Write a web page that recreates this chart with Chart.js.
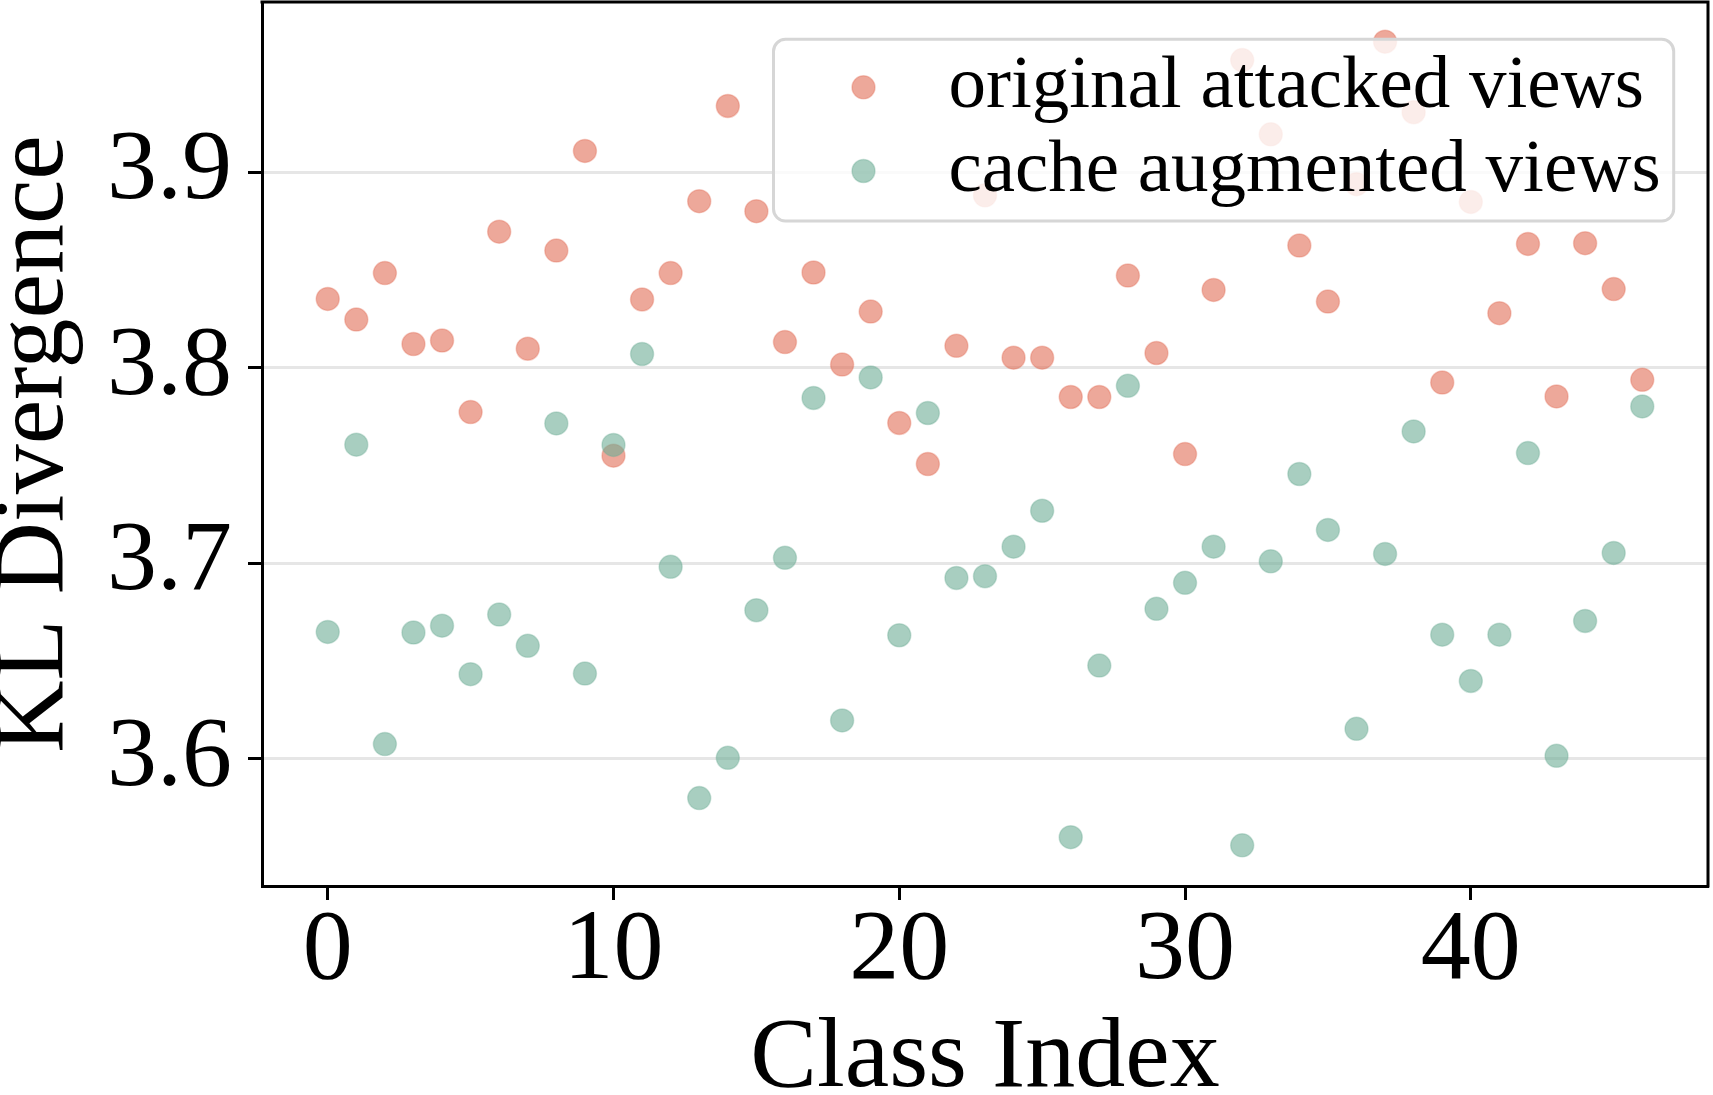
<!DOCTYPE html>
<html>
<head>
<meta charset="utf-8">
<script src="https://cdn.jsdelivr.net/npm/chart.js@4.4.0/dist/chart.umd.min.js"></script>
<style>
  html, body { margin: 0; padding: 0; background: #ffffff; }
  #wrap { width: 1713px; height: 1095px; }
</style>
</head>
<body>
<div id="wrap"><canvas id="c" width="1713" height="1095"></canvas></div>
<script>
// ---- data ----
const classIndex = [0,1,2,3,4,5,6,7,8,9,10,11,12,13,14,15,16,17,18,19,20,21,22,23,24,25,26,27,28,29,30,31,32,33,34,35,36,37,38,39,40,41,42,43,44,45,46];
const originalAttacked = [3.8352,3.8246,3.8484,3.8121,3.8139,3.7773,3.8696,3.8097,3.8599,3.9109,
  3.7550,3.8349,3.8484,3.8852,3.9339,3.8801,3.8131,3.8487,3.8016,3.8287,
  3.7717,3.7507,3.8112,3.8882,3.8051,3.8051,3.7850,3.7850,3.8471,3.8075,
  3.7558,3.8398,3.9574,3.9194,3.8625,3.8338,3.8939,3.9668,3.9307,3.7924,
  3.8848,3.8279,3.8633,3.7853,3.8637,3.8402,3.7938];
const cacheAugmented = [3.6648,3.7606,3.6074,3.6645,3.6680,3.6432,3.6737,3.6577,3.7715,3.6435,
  3.7605,3.8070,3.6981,3.5798,3.6004,3.6759,3.7027,3.7845,3.6195,3.7950,
  3.6631,3.7768,3.6924,3.6933,3.7084,3.7268,3.5598,3.6476,3.7907,3.6766,
  3.6899,3.7084,3.5556,3.7009,3.7456,3.7170,3.6152,3.7047,3.7674,3.6634,
  3.6397,3.6634,3.7563,3.6014,3.6704,3.7052,3.7802];
const seriesLabels = ['original attacked views', 'cache augmented views'];
const xTickValues = [0, 10, 20, 30, 40];
const yTickValues = [3.6, 3.7, 3.8, 3.9];
const xLimits = [-2.3, 48.3];
const yLimits = [3.5348, 3.9871];

// ---- styling ----
const SERIF = '"Liberation Serif", "Times New Roman", serif';
const ORANGE_FILL = 'rgba(225,110,87,0.6)';
const ORANGE_EDGE = 'rgba(225,110,87,0.35)';
const GREEN_FILL = 'rgba(110,173,150,0.6)';
const GREEN_EDGE = 'rgba(110,173,150,0.35)';
const POINT_R = 11.5;

const toPoints = (ys) => classIndex.map((x, i) => ({ x: x, y: ys[i] }));

function noPad(scale) {
  scale.paddingTop = 0; scale.paddingBottom = 0;
  scale.paddingLeft = 0; scale.paddingRight = 0;
}

// frame (top/right spines) plugin
const framePlugin = {
  id: 'frame',
  afterDraw(chart) {
    const { ctx, chartArea: a } = chart;
    ctx.save();
    ctx.strokeStyle = '#000';
    ctx.lineWidth = 3;
    ctx.lineCap = 'square';
    ctx.beginPath();
    ctx.moveTo(a.left, a.top);
    ctx.lineTo(a.right, a.top);
    ctx.lineTo(a.right, a.bottom);
    ctx.stroke();
    ctx.restore();
  }
};

// legend drawn over the points (semi-transparent white box, like the reference)
const legendPlugin = {
  id: 'overLegend',
  afterDatasetsDraw(chart) {
    const { ctx, chartArea: a } = chart;
    const boxRight = a.right - 34.3, boxTop = a.top + 37.3;
    const boxW = 900.2, boxH = 181.7, boxL = boxRight - boxW;
    ctx.save();
    ctx.beginPath();
    ctx.roundRect(boxL, boxTop, boxW, boxH, 12);
    ctx.fillStyle = 'rgba(255,255,255,0.8)';
    ctx.fill();
    ctx.lineWidth = 3;
    ctx.strokeStyle = '#d6d6d6';
    ctx.stroke();
    const ds = chart.data.datasets;
    const rows = [
      { y: boxTop + 48, base: boxTop + 68, d: ds[0] },
      { y: boxTop + 131.7, base: boxTop + 151.4, d: ds[1] }
    ];
    rows.forEach(r => {
      ctx.beginPath();
      ctx.arc(boxL + 90, r.y, POINT_R, 0, Math.PI * 2);
      ctx.fillStyle = r.d.backgroundColor;
      ctx.fill();
      ctx.lineWidth = 1.5;
      ctx.strokeStyle = r.d.borderColor;
      ctx.stroke();
      ctx.fillStyle = '#000';
      ctx.font = '75px ' + SERIF;
      ctx.textAlign = 'left';
      ctx.textBaseline = 'alphabetic';
      ctx.fillText(r.d.label, boxL + 174.9, r.base);
    });
    ctx.restore();
  }
};

new Chart(document.getElementById('c'), {
  type: 'scatter',
  data: {
    datasets: [
      { label: seriesLabels[0], data: toPoints(originalAttacked), order: 1,
        backgroundColor: ORANGE_FILL, borderColor: ORANGE_EDGE, borderWidth: 1.5,
        pointRadius: POINT_R, pointHoverRadius: POINT_R },
      { label: seriesLabels[1], data: toPoints(cacheAugmented), order: 0,
        backgroundColor: GREEN_FILL, borderColor: GREEN_EDGE, borderWidth: 1.5,
        pointRadius: POINT_R, pointHoverRadius: POINT_R }
    ]
  },
  options: {
    responsive: false,
    devicePixelRatio: 1,
    animation: false,
    layout: { autoPadding: false, padding: { top: 2, right: 5, left: 0, bottom: 0 } },
    plugins: { legend: { display: false }, tooltip: { enabled: false } },
    scales: {
      x: {
        type: 'linear',
        min: xLimits[0], max: xLimits[1],
        afterBuildTicks(scale) { scale.ticks = xTickValues.map(v => ({ value: v })); },
        afterFit(scale) { scale.height = 209; noPad(scale); },
        grid: { display: true, drawOnChartArea: false, drawTicks: true, tickLength: 14,
                tickColor: '#000', tickWidth: 3 },
        border: { display: true, color: '#000', width: 3 },
        ticks: { color: '#000', padding: 2, autoSkip: false, maxRotation: 0,
                 font: { family: SERIF, size: 100, lineHeight: 1 },
                 callback: (v) => String(v) },
        title: { display: true, text: 'Class Index', color: '#000',
                 font: { family: SERIF, size: 100, lineHeight: 0.71 },
                 padding: { top: 0, bottom: 0 } }
      },
      y: {
        type: 'linear',
        min: yLimits[0], max: yLimits[1],
        afterBuildTicks(scale) { scale.ticks = yTickValues.map(v => ({ value: v })); },
        afterFit(scale) { scale.width = 262; noPad(scale); },
        grid: { display: true, color: '#e6e6e6', lineWidth: 3, drawTicks: true, tickLength: 14,
                tickColor: '#000', tickWidth: 3 },
        border: { display: true, color: '#000', width: 3 },
        ticks: { color: '#000', padding: 16, autoSkip: false,
                 font: { family: SERIF, size: 100, lineHeight: 1 },
                 callback: (v) => Number(v).toFixed(1) },
        title: { display: true, text: 'KL Divergence', color: '#000',
                 font: { family: SERIF, size: 100, lineHeight: 0.71 },
                 padding: { top: 0, bottom: 0 } }
      }
    }
  },
  plugins: [framePlugin, legendPlugin]
});
</script>
</body>
</html>
